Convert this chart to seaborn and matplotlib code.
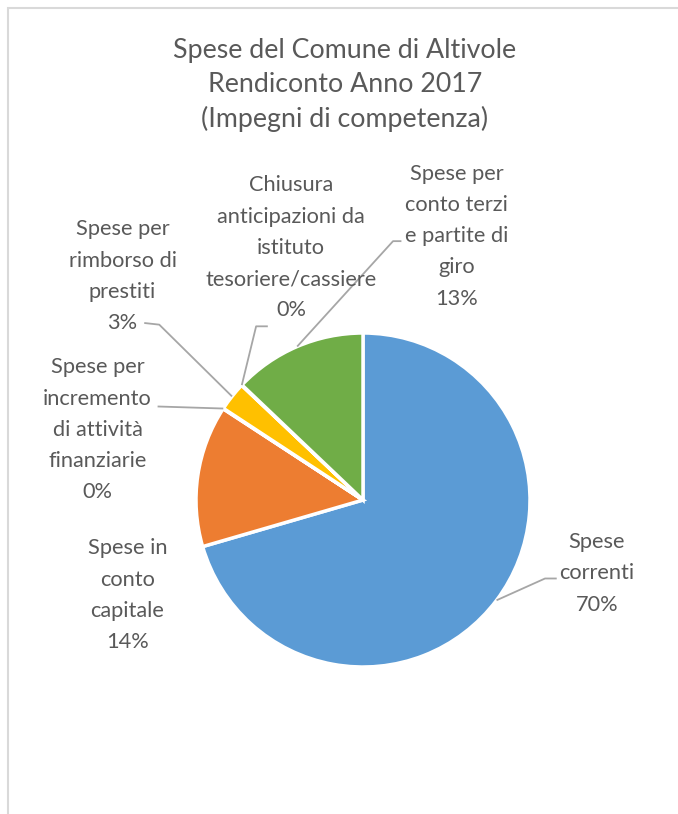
# Pie chart of the 2017 expenses of the Comune di Altivole
import numpy as np
import matplotlib.pyplot as plt
from matplotlib.patches import Rectangle
import seaborn as sns

sns.set_theme(style="white")
plt.rcParams['font.family'] = ['Lato', 'DejaVu Sans']

# Data (percent of total)
categories = ["Spese\ncorrenti",
              "Spese in\nconto\ncapitale",
              "Spese per\nincremento\ndi attività\nfinanziarie",
              "Spese per\nrimborso di\nprestiti",
              "Chiusura\nanticipazioni da\nistituto\ntesoriere/cassiere",
              "Spese per\nconto terzi\ne partite di\ngiro"]
values = [70.5, 13.7, 0.05, 2.8, 0.05, 12.9]
pct_labels = ["70%", "14%", "0%", "3%", "0%", "13%"]

colors = sns.color_palette(["#5B9BD5", "#ED7D31", "#A5A5A5",
                            "#FFC000", "#4472C4", "#70AD47"])
text_col = "#595959"
line_col = "#A6A6A6"

# label placement (data units, radius = 1) and leader elbows
label_pos = [(1.40, -0.44), (-1.41, -0.57), (-1.59, 0.42),
             (-1.44, 1.34), (-0.43, 1.51), (0.56, 1.58)]
leaders = [[(1.09, -0.47), (1.16, -0.47)],
           None,
           [(-1.23, 0.56)],
           [(-1.22, 1.05), (-1.31, 1.06)],
           [(-0.64, 1.04), (-0.57, 1.04)],
           [(0.18, 1.55), (0.23, 1.55)]]

W, H = 678, 814
cx, cy, r = 363, 500, 167
fig = plt.figure(figsize=(W / 100, H / 100), dpi=100)
ax = fig.add_axes([(cx - r) / W, (H - cy - r) / H, 2 * r / W, 2 * r / H])

wedges, _ = ax.pie(values, colors=colors, startangle=90, counterclock=False,
                   wedgeprops=dict(edgecolor="white", linewidth=2.5))
ax.set_xlim(-1, 1)
ax.set_ylim(-1, 1)
ax.set_aspect("equal")
ax.axis("off")

for w, cat, pct, pos, lead in zip(wedges, categories, pct_labels,
                                  label_pos, leaders):
    ax.text(pos[0], pos[1], cat + "\n" + pct, ha="center", va="center",
            fontsize=15.7, color=text_col, linespacing=1.7)
    if lead:
        mid = np.deg2rad((w.theta1 + w.theta2) / 2)
        pts = [(np.cos(mid), np.sin(mid))] + lead
        xs, ys = zip(*pts)
        ax.plot(xs, ys, color=line_col, lw=1.3, clip_on=False,
                solid_capstyle="butt")

fig.text(345 / W, 1 - 85 / H,
         "Spese del Comune di Altivole\nRendiconto Anno 2017\n(Impegni di competenza)",
         ha="center", va="center", fontsize=19.3, color=text_col,
         linespacing=1.43)

# chart frame (only top and left edges are visible)
fig.add_artist(Rectangle((8 / W, -0.1), 1.2, 1.1 - 8 / H, transform=fig.transFigure,
                         fill=False, edgecolor="#D9D9D9", lw=1.5))

fig.savefig("out.png", dpi=100)
